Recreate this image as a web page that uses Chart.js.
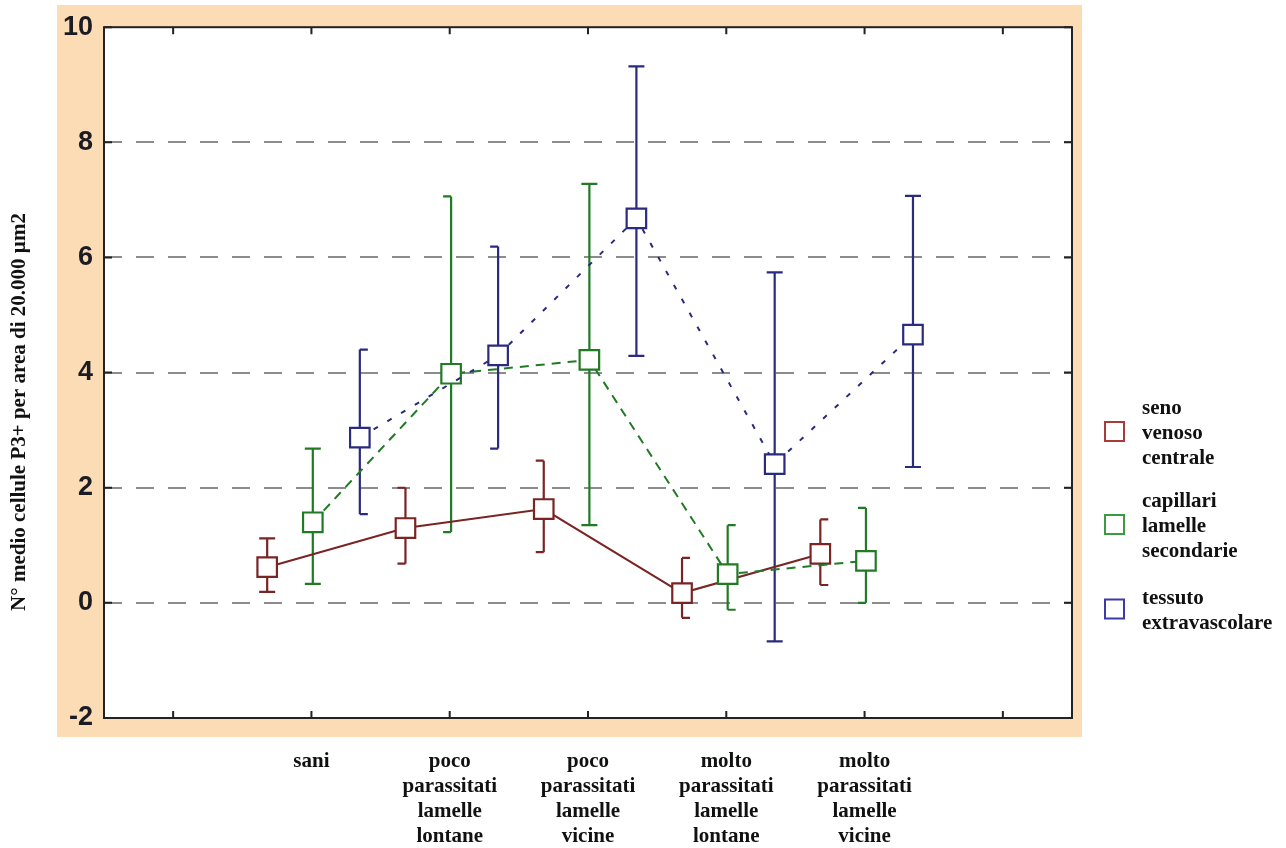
<!DOCTYPE html>
<html lang="it">
<head>
<meta charset="UTF-8" />
<title>Cellule P3+</title>
<script src="https://cdn.jsdelivr.net/npm/chart.js@4.4.1/dist/chart.umd.min.js"></script>
<style>
  html, body { margin: 0; padding: 0; background: #fff; }
</style>
</head>
<body>
<canvas id="chart" width="1286" height="848"></canvas>
<script>
// categories on the x axis (one position per group)
const categories = [
  ["sani"],
  ["poco", "parassitati", "lamelle", "lontane"],
  ["poco", "parassitati", "lamelle", "vicine"],
  ["molto", "parassitati", "lamelle", "lontane"],
  ["molto", "parassitati", "lamelle", "vicine"]
];
const categoryPos = [1, 2, 3, 4, 5];
const xTicks = [0, 1, 2, 3, 4, 5, 6];
const yTicks = [-2, 0, 2, 4, 6, 8, 10];

const seriesNames = [
  ["seno", "venoso", "centrale"],
  ["capillari", "lamelle", "secondarie"],
  ["tessuto", "extravascolare"]
];

// seno venoso centrale
const senoMean = [0.62, 1.30, 1.63, 0.17, 0.85];
const senoLow  = [0.19, 0.68, 0.88, -0.26, 0.31];
const senoHigh = [1.12, 2.00, 2.47, 0.78, 1.45];
const senoCap  = [0, -1, -1, 1, 1];

// capillari lamelle secondarie
const capMean = [1.40, 3.98, 4.22, 0.50, 0.73];
const capLow  = [0.33, 1.23, 1.35, -0.12, 0.00];
const capHigh = [2.68, 7.06, 7.28, 1.35, 1.65];
const capCap  = [0, -1, 0, 1, -1];

// tessuto extravascolare
const tesMean = [2.87, 4.30, 6.68, 2.41, 4.66];
const tesLow  = [1.54, 2.68, 4.29, -0.67, 2.36];
const tesHigh = [4.40, 6.19, 9.32, 5.74, 7.07];
const tesCap  = [1, -1, 0, 0, 0];

const colors = ["#7a2424", "#217a24", "#2a2a7e"];
const legendColors = ["#a83a3a", "#3c9a40", "#3a3aa8"];
const offsets = [-0.32, 0.01, 0.35];

function makeSet(i, mean, low, high, caps, dash, order) {
  return {
    label: seriesNames[i].join(" "),
    data: mean.map((v, j) => ({ x: categoryPos[j] + offsets[i], y: v })),
    errLow: low,
    errHigh: high,
    capSide: caps,
    borderColor: colors[i],
    borderWidth: 2,
    borderDash: dash,
    pointStyle: "rect",
    pointRadius: 13.8,
    pointBorderWidth: 2.2,
    pointBackgroundColor: "#fff",
    pointBorderColor: colors[i],
    order: order
  };
}

const frame = {
  id: "frame",
  beforeDraw(chart) {
    const { ctx, chartArea: a } = chart;
    ctx.save();
    ctx.fillStyle = "#fbdcb4";
    ctx.fillRect(57, 5, 1025, 732);
    ctx.fillStyle = "#fff";
    ctx.fillRect(a.left, a.top, a.right - a.left, a.bottom - a.top);
    ctx.restore();
  },
  beforeDatasetsDraw(chart) {
    const { ctx, chartArea: a, scales: { x, y } } = chart;
    ctx.save();
    ctx.strokeStyle = "#222";
    ctx.lineWidth = 2;
    ctx.strokeRect(a.left, a.top, a.right - a.left, a.bottom - a.top);
    ctx.beginPath();
    xTicks.forEach(v => {
      const px = x.getPixelForValue(v);
      ctx.moveTo(px, a.bottom); ctx.lineTo(px, a.bottom - 7);
      ctx.moveTo(px, a.top); ctx.lineTo(px, a.top + 7);
    });
    yTicks.forEach(v => {
      const py = y.getPixelForValue(v);
      ctx.moveTo(a.left, py); ctx.lineTo(a.left + 8, py);
      ctx.moveTo(a.right, py); ctx.lineTo(a.right - 8, py);
    });
    ctx.stroke();

    // error bars
    chart.data.datasets.forEach(ds => {
      ctx.strokeStyle = ds.borderColor;
      ctx.lineWidth = 2.2;
      ctx.beginPath();
      ds.data.forEach((pt, j) => {
        const px = x.getPixelForValue(pt.x);
        const top = y.getPixelForValue(ds.errHigh[j]);
        const bot = y.getPixelForValue(ds.errLow[j]);
        ctx.moveTo(px, top); ctx.lineTo(px, bot);
        const s = ds.capSide[j];
        const l = s === 1 ? px : px - 8;
        const r = s === -1 ? px : px + 8;
        ctx.moveTo(l, top); ctx.lineTo(r, top);
        ctx.moveTo(l, bot); ctx.lineTo(r, bot);
      });
      ctx.stroke();
    });
    ctx.restore();
  },
  afterDraw(chart) {
    const { ctx } = chart;
    ctx.save();
    // y axis title
    ctx.fillStyle = "#111";
    ctx.font = 'bold 21px "Liberation Serif"';
    ctx.textAlign = "center";
    ctx.textBaseline = "middle";
    ctx.translate(20, 412);
    ctx.rotate(-Math.PI / 2);
    ctx.fillText("N° medio cellule P3+ per area di 20.000 µm2", 0, 0);
    ctx.restore();

    // legend
    ctx.save();
    ctx.font = 'bold 21px "Liberation Serif"';
    ctx.textBaseline = "middle";
    ctx.textAlign = "left";
    const firstLine = [409, 502, 599];
    const lh = 25;
    seriesNames.forEach((lines, i) => {
      const cy = firstLine[i] + (lines.length - 1) * lh / 2;
      ctx.strokeStyle = legendColors[i];
      ctx.lineWidth = 2;
      ctx.strokeRect(1105, cy - 12, 19, 19);
      ctx.fillStyle = "#111";
      lines.forEach((t, k) => ctx.fillText(t, 1142, firstLine[i] + k * lh));
    });
    ctx.restore();
  }
};

new Chart(document.getElementById("chart"), {
  type: "line",
  data: {
    datasets: [
      makeSet(0, senoMean, senoLow, senoHigh, senoCap, [], 3),
      makeSet(1, capMean, capLow, capHigh, capCap, [9, 7], 2),
      makeSet(2, tesMean, tesLow, tesHigh, tesCap, [5, 11], 1)
    ]
  },
  options: {
    responsive: false,
    animation: false,
    layout: { padding: { left: 0, top: 23, right: 214, bottom: 0 } },
    plugins: { legend: { display: false }, tooltip: { enabled: false } },
    scales: {
      x: {
        type: "linear",
        min: -0.5,
        max: 6.5,
        afterBuildTicks: s => { s.ticks = xTicks.map(v => ({ value: v })); },
        afterFit: s => { s.height = 130; },
        grid: { display: false },
        border: { display: false },
        ticks: {
          autoSkip: false,
          maxRotation: 0,
          padding: 23,
          color: "#111",
          font: { family: "Liberation Serif", weight: "bold", size: 21, lineHeight: 1.19 },
          callback: v => {
            const k = categoryPos.indexOf(v);
            return k >= 0 ? categories[k] : "";
          }
        }
      },
      y: {
        min: -2,
        max: 10,
        afterBuildTicks: s => { s.ticks = yTicks.map(v => ({ value: v })); },
        afterFit: s => { s.width = 104; },
        grid: {
          drawTicks: false,
          lineWidth: 2,
          color: c => (c.tick && c.tick.value > -2 && c.tick.value < 10) ? "#8c8c8c" : "rgba(0,0,0,0)"
        },
        border: { display: false, dash: [18, 14] },
        ticks: {
          padding: 11,
          color: "#1b1b24",
          font: { family: "Liberation Sans", weight: "bold", size: 27 }
        }
      }
    }
  },
  plugins: [frame]
});
</script>
</body>
</html>
